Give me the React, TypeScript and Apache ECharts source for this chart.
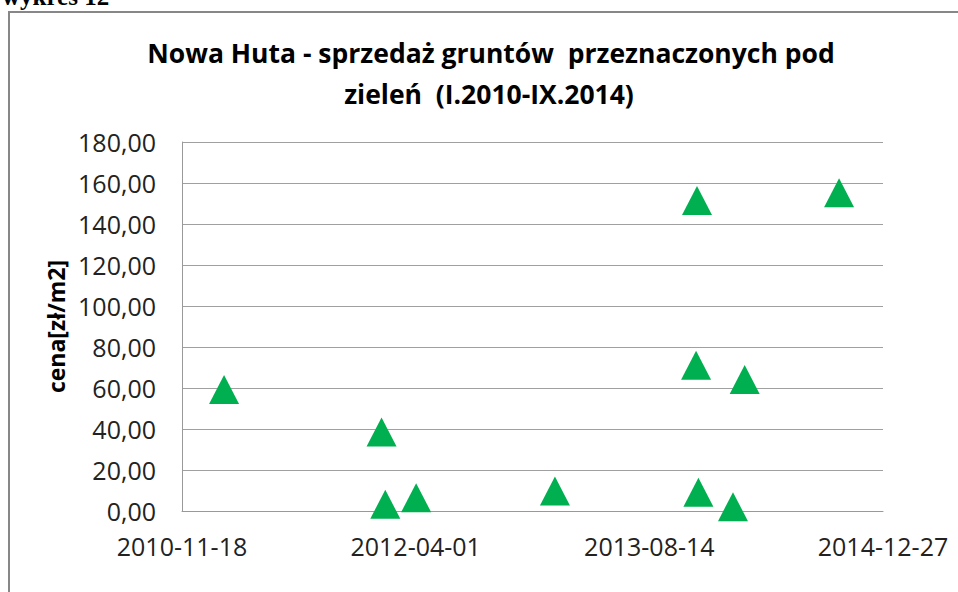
import React, { useEffect, useRef } from "react";
import * as echarts from "echarts";

const saleDates = [
  "2011-02-16",
  "2012-01-19",
  "2012-01-27",
  "2012-04-02",
  "2013-01-24",
  "2013-11-24",
  "2013-11-22",
  "2013-11-27",
  "2014-02-09",
  "2014-03-06",
  "2014-09-24",
];
const pricePerM2 = [59.3, 38.5, 3.3, 6.5, 9.8, 151.5, 71.1, 9.1, 2.1, 64.1, 155.3];

const xTickStart = "2010-11-18";
const xTickEnd = "2014-12-27";
const xTickStepDays = 500;
const yMin = 0;
const yMax = 180;
const yStep = 20;

const titleLines = [
  "Nowa Huta - sprzedaż gruntów  przeznaczonych pod",
  "zieleń  (I.2010-IX.2014)",
];
const yAxisTitle = "cena[zł/m2]";
const pageCaption = "wykres 12";

const EXCEL_EPOCH = Date.UTC(1899, 11, 30);
const DAY = 86400000;
const toSerial = (s: string) => {
  const [y, m, d] = s.split("-").map(Number);
  return Math.round((Date.UTC(y, m - 1, d) - EXCEL_EPOCH) / DAY);
};
const fromSerial = (n: number) => {
  const dt = new Date(EXCEL_EPOCH + Math.round(n) * DAY);
  const p = (v: number) => String(v).padStart(2, "0");
  return `${dt.getUTCFullYear()}-${p(dt.getUTCMonth() + 1)}-${p(dt.getUTCDate())}`;
};

const FONT = "Open Sans";

export default function App() {
  const ref = useRef<HTMLDivElement>(null);
  useEffect(() => {
    if (!ref.current) return;
    const chart = echarts.init(ref.current, undefined, { renderer: "svg" });
    const data = saleDates.map((d, i) => [toSerial(d), pricePerM2[i]]);
    chart.setOption({
      animation: false,
      backgroundColor: "#ffffff",
      grid: { left: 182, right: 75, top: 142, bottom: 81, containLabel: false },
      graphic: [
        {
          type: "rect",
          shape: { x: 9, y: 12, width: 2000, height: 2000 },
          style: { fill: "none", stroke: "#878787", lineWidth: 2 },
          silent: true,
        },
        {
          type: "text",
          x: 2,
          y: -4,
          style: {
            text: pageCaption,
            fontFamily: "Liberation Serif",
            fontWeight: "bold",
            fontSize: 25,
            fill: "#000",
            verticalAlign: "middle",
          },
        },
        {
          type: "text",
          x: 491,
          y: 53,
          style: {
            text: titleLines[0],
            fontFamily: FONT,
            fontWeight: "bold",
            fontSize: 26.5,
            fill: "#000",
            align: "center",
            verticalAlign: "middle",
          },
        },
        {
          type: "text",
          x: 489,
          y: 94,
          style: {
            text: titleLines[1],
            fontFamily: FONT,
            fontWeight: "bold",
            fontSize: 26.5,
            fill: "#000",
            align: "center",
            verticalAlign: "middle",
          },
        },
      ],
      xAxis: {
        type: "value",
        min: toSerial(xTickStart),
        max: toSerial(xTickEnd),
        interval: xTickStepDays,
        axisLine: { show: true, lineStyle: { color: "#999", width: 1 } },
        axisTick: { show: false },
        splitLine: { show: false },
        axisLabel: {
          formatter: (v: number) => fromSerial(v),
          fontFamily: FONT,
          fontSize: 25,
          color: "#222",
          margin: 22,
        },
      },
      yAxis: {
        type: "value",
        min: yMin,
        max: yMax,
        interval: yStep,
        name: yAxisTitle,
        nameLocation: "middle",
        nameGap: 99,
        nameRotate: 90,
        nameTextStyle: { fontFamily: FONT, fontSize: 23, fontWeight: "bold", color: "#000" },
        axisLine: { show: true, lineStyle: { color: "#999", width: 1 } },
        axisTick: { show: false },
        splitLine: { show: true, lineStyle: { color: "#a0a0a0", width: 1 } },
        axisLabel: {
          formatter: (v: number) => v.toFixed(2).replace(".", ","),
          fontFamily: FONT,
          fontSize: 25,
          color: "#222",
          margin: 26,
        },
      },
      series: [
        {
          type: "scatter",
          data,
          symbol: "triangle",
          symbolSize: [30, 29],
          itemStyle: { color: "#00B050", opacity: 1 },
        },
      ],
    });
    return () => chart.dispose();
  }, []);
  return (
    <div
      ref={ref}
      style={{ position: "fixed", left: 0, top: 0, width: 958, height: 592 }}
    />
  );
}
